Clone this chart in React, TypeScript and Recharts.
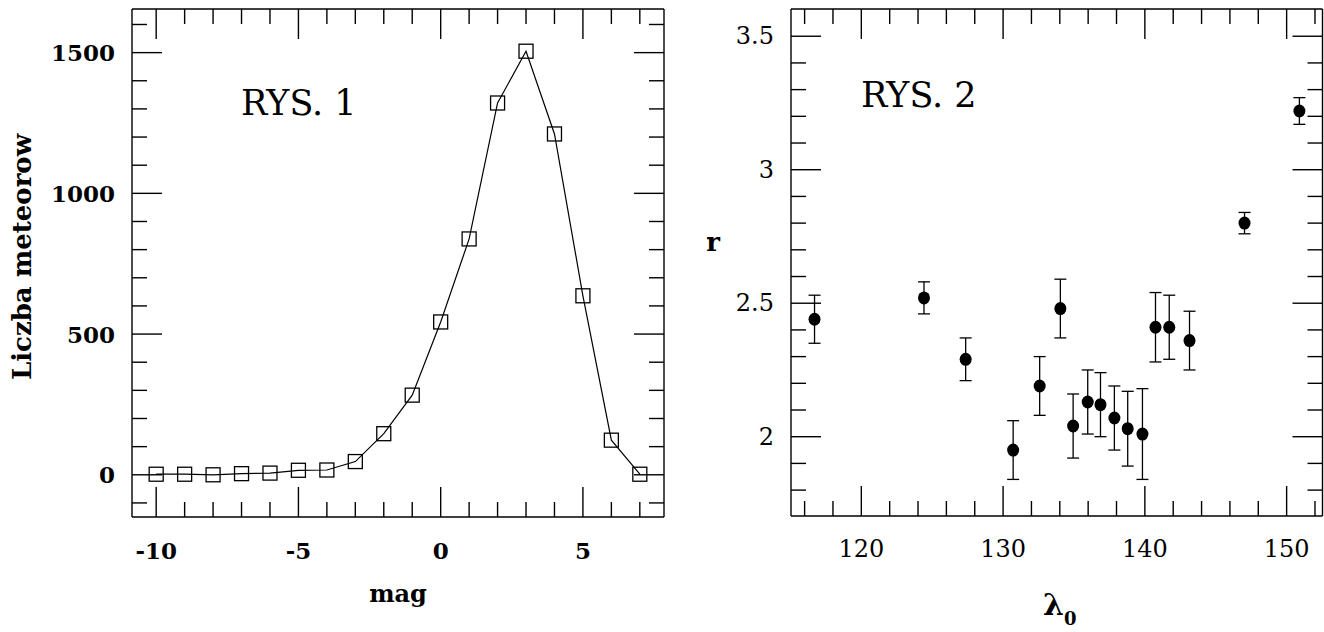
import React from 'react';
import { LineChart, Line, ScatterChart, Scatter, ErrorBar, XAxis, YAxis, ReferenceLine } from 'recharts';

// RYS. 1 - rozklad jasnosci meteorow
const mags = [-10, -9, -8, -7, -6, -5, -4, -3, -2, -1, 0, 1, 2, 3, 4, 5, 6, 7];
const counts = [2, 2, 0, 4, 6, 16, 17, 47, 146, 283, 543, 838, 1321, 1505, 1211, 636, 123, 2];
const magTicks = [-10, -9, -8, -7, -6, -5, -4, -3, -2, -1, 0, 1, 2, 3, 4, 5, 6, 7];
const countTicks = [-100, 0, 100, 200, 300, 400, 500, 600, 700, 800, 900, 1000, 1100, 1200, 1300, 1400, 1500, 1600];

// RYS. 2 - wskaznik populacji r w funkcji dlugosci Slonca
const lambda = [116.7, 124.42, 127.36, 130.71, 132.58, 134.04, 134.94, 135.97, 136.87, 137.85, 138.79, 139.83, 140.75, 141.72, 143.15, 147.03, 150.9];
const rValues = [2.44, 2.52, 2.29, 1.95, 2.19, 2.48, 2.04, 2.13, 2.12, 2.07, 2.03, 2.01, 2.41, 2.41, 2.36, 2.8, 3.22];
const rErrors = [0.09, 0.06, 0.08, 0.11, 0.11, 0.11, 0.12, 0.12, 0.12, 0.12, 0.14, 0.17, 0.13, 0.12, 0.11, 0.04, 0.05];
const lambdaTicks = [116, 118, 120, 122, 124, 126, 128, 130, 132, 134, 136, 138, 140, 142, 144, 146, 148, 150, 152];
const rTicks = [1.8, 1.9, 2, 2.1, 2.2, 2.3, 2.4, 2.5, 2.6, 2.7, 2.8, 2.9, 3, 3.1, 3.2, 3.3, 3.4, 3.5];

const magDomain = [-10.85, 7.85];
const countDomain = [-150, 1655];
const lambdaDomain = [115.04, 152.53];
const rDomain = [1.703, 3.602];

const FONT = '"DejaVu Serif", "Liberation Serif", serif';
const MAJOR = 30;
const MINOR = 15;
const TICK_W = 1.4;
const frame = { stroke: '#000', strokeWidth: 1.4 };

const magData = mags.map((m, i) => ({ mag: m, n: counts[i] }));
const rData = lambda.map((l, i) => ({ x: l, y: rValues[i], err: rErrors[i] }));

const isMult = (v: number, step: number) => Math.abs(v / step - Math.round(v / step)) < 1e-6;
const fmt = (v: number) => String(Number(v.toFixed(1)));

// bottom axis: tick pointing up into the frame, label below for major values
const makeXTick = (step: number, weight: string, size: number) => (props: any) => {
  const { x, y, payload } = props;
  const v = payload.value;
  const major = isMult(v, step);
  const len = major ? MAJOR : MINOR;
  return (
    <g key={`x-${v}`}>
      <line x1={x} y1={y} x2={x} y2={y - len} stroke="#000" strokeWidth={TICK_W} />
      {major && (
        <text x={x} y={y + 33} textAnchor="middle" dominantBaseline="central" fontFamily={FONT} fontSize={size} fontWeight={weight} fill="#000">{fmt(v)}</text>
      )}
    </g>
  );
};

const makeYTick = (side: string, step: number, weight: string, size: number) => (props: any) => {
  const { x, y, payload } = props;
  const v = payload.value;
  const major = isMult(v, step);
  const len = major ? MAJOR : MINOR;
  if (side === 'right') {
    return <line key={`r-${v}`} x1={x} y1={y} x2={x - len} y2={y} stroke="#000" strokeWidth={TICK_W} />;
  }
  return (
    <g key={`l-${v}`}>
      <line x1={x} y1={y} x2={x + len} y2={y} stroke="#000" strokeWidth={TICK_W} />
      {major && (
        <text x={x - 17} y={y} textAnchor="end" dominantBaseline="central" fontFamily={FONT} fontSize={size} fontWeight={weight} fill="#000">{fmt(v)}</text>
      )}
    </g>
  );
};

// ticks hanging down from the top edge of the frame, length given in pixels
const topTicks = (ticks: number[], step: number, yDomain: number[], plotH: number) => {
  const perPx = (yDomain[1] - yDomain[0]) / plotH;
  return ticks.map((v) => {
    const len = (isMult(v, step) ? MAJOR : MINOR) * perPx;
    return (
      <ReferenceLine key={`t-${v}`} segment={[{ x: v, y: yDomain[1] }, { x: v, y: yDomain[1] - len }]}
        stroke="#000" strokeWidth={TICK_W} ifOverflow="visible" />
    );
  });
};

const Square = (p: any) => (
  <rect key={`sq-${p.index}`} x={p.cx - 7} y={p.cy - 7} width={14} height={14} fill="none" stroke="#000" strokeWidth={1.3} />
);

const Dot = (p: any) => <ellipse cx={p.cx} cy={p.cy} rx={6} ry={6.5} fill="#000" />;

const txt = (extra: React.CSSProperties): React.CSSProperties => ({
  position: 'absolute',
  fontFamily: FONT,
  color: '#000',
  whiteSpace: 'nowrap',
  lineHeight: 1,
  ...extra,
});

const axisCommon = { tickSize: 0, tickMargin: 0, tickLine: false, interval: 0 as const, allowDataOverflow: true, type: 'number' as const };

export default function App() {
  return (
    <div style={{ position: 'absolute', left: 0, top: 0, width: 1324, height: 632, background: '#fff' }}>
      <div style={{ position: 'absolute', left: 0, top: 0 }}>
        <LineChart width={680} height={632} data={magData} margin={{ top: 8, left: 72, right: 15, bottom: 75 }}>
          <XAxis {...axisCommon} dataKey="mag" domain={magDomain} ticks={magTicks} height={40} axisLine={frame}
            tick={makeXTick(5, 'bold', 23)} />
          <XAxis {...axisCommon} xAxisId="top" orientation="top" domain={magDomain} height={1} axisLine={frame} tick={false} />
          <YAxis {...axisCommon} domain={countDomain} ticks={countTicks} width={60} axisLine={frame}
            tick={makeYTick('left', 500, 'bold', 23)} />
          <YAxis {...axisCommon} yAxisId="right" orientation="right" domain={countDomain} ticks={countTicks} width={1} axisLine={frame}
            tick={makeYTick('right', 500, 'bold', 23)} />
          {topTicks(magTicks, 5, countDomain, 508)}
          <Line type="linear" dataKey="n" stroke="#000" strokeWidth={1.2} dot={Square} activeDot={false} isAnimationActive={false} />
        </LineChart>
      </div>
      <div style={txt({ left: 241, top: 86, fontSize: 35 })}>RYS. 1</div>
      <div style={txt({ left: 22, top: 257, fontSize: 26, fontWeight: 'bold', transform: 'translate(-50%, -50%) rotate(-90deg)' })}>Liczba meteorow</div>
      <div style={txt({ left: 398, top: 594, fontSize: 24, fontWeight: 'bold', transform: 'translate(-50%, -50%)' })}>mag</div>

      <div style={{ position: 'absolute', left: 680, top: 0 }}>
        <ScatterChart width={644} height={632} margin={{ top: 8, left: 51, right: 0.5, bottom: 76 }}>
          <XAxis {...axisCommon} dataKey="x" domain={lambdaDomain} ticks={lambdaTicks} height={40} axisLine={frame}
            tick={makeXTick(10, 'normal', 24)} />
          <XAxis {...axisCommon} xAxisId="top" orientation="top" domain={lambdaDomain} height={1} axisLine={frame} tick={false} />
          <YAxis {...axisCommon} dataKey="y" domain={rDomain} ticks={rTicks} width={60} axisLine={frame}
            tick={makeYTick('left', 0.5, 'normal', 24)} />
          <YAxis {...axisCommon} yAxisId="right" orientation="right" domain={rDomain} ticks={rTicks} width={1} axisLine={frame}
            tick={makeYTick('right', 0.5, 'normal', 24)} />
          {topTicks(lambdaTicks, 10, rDomain, 507)}
          <Scatter data={rData} shape={Dot} isAnimationActive={false}>
            <ErrorBar dataKey="err" direction="y" width={6} stroke="#000" strokeWidth={1.3} isAnimationActive={false} />
          </Scatter>
        </ScatterChart>
      </div>
      <div style={txt({ left: 861, top: 78, fontSize: 35 })}>RYS. 2</div>
      <div style={txt({ left: 713, top: 242, fontSize: 26, fontWeight: 'bold', transform: 'translate(-50%, -50%)' })}>r</div>
      <div style={txt({ left: 1043, top: 590, fontSize: 30, fontWeight: 'bold' })}>
        λ<span style={{ fontSize: 18, position: 'relative', top: 10 }}>0</span>
      </div>
    </div>
  );
}
